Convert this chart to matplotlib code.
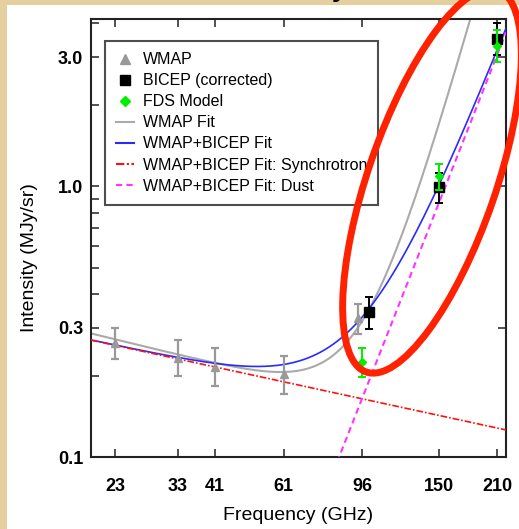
import numpy as np
import matplotlib
matplotlib.use("Agg")
import matplotlib.pyplot as plt
from matplotlib.patches import Ellipse, Rectangle
from matplotlib.lines import Line2D
from matplotlib.ticker import LogLocator, NullLocator, NullFormatter

plt.rcParams['font.family'] = ['Liberation Sans', 'DejaVu Sans']

# ---- measured points ----
wmap_freq = [23, 33, 41, 61, 94]
wmap_I = [0.264, 0.232, 0.215, 0.203, 0.326]
wmap_lo = [0.230, 0.200, 0.183, 0.171, 0.285]
wmap_hi = [0.300, 0.271, 0.252, 0.237, 0.368]

bicep_freq = [100, 150, 210]
bicep_I = [0.344, 0.99, 3.50]
bicep_lo = [0.297, 0.87, 3.05]
bicep_hi = [0.390, 1.12, 4.00]

fds_freq = [96, 150, 210]
fds_I = [0.225, 1.09, 3.30]
fds_lo = [0.198, 0.97, 2.87]
fds_hi = [0.253, 1.21, 3.77]

# ---- power-law fit components: (amplitude, reference GHz, index) ----
joint_synch = (0.2585, 23.0, -0.318)
joint_dust = (0.100, 84.1, 3.74)
wmap_synch = (0.272, 23.0, -0.36)
wmap_dust = (0.445, 117.7, 5.2)

xticks = [23, 33, 41, 61, 96, 150, 210]
xticklabels = ['23', '33', '41', '61', '96', '150', '210']
yticks = [0.1, 0.3, 1.0, 3.0]
yticklabels = ['0.1', '0.3', '1.0', '3.0']


def power_law(f, comp):
    amp, ref, idx = comp
    return amp * (f / ref) ** idx


W, H = 519, 529
fig = plt.figure(figsize=(W / 100, H / 100), dpi=100, facecolor='#e6cf9f')

# page background
bg = fig.add_axes([0, 0, 1, 1], zorder=0)
bg.set_xlim(0, W)
bg.set_ylim(H, 0)
bg.axis('off')
bg.add_patch(Rectangle((7, 5), W, H, facecolor='white', edgecolor='none'))
bg.text(338, -3, 'y', fontsize=17, fontweight='bold', ha='center',
        va='baseline', color='black', family='DejaVu Sans')

# main plot
L, R, T, B = 91, 506, 19, 457
ax = fig.add_axes([L / W, 1 - B / H, (R - L) / W, (B - T) / H], zorder=1)
ax.set_xscale('log')
ax.set_yscale('log')
ax.set_xlim(20, 221)
ax.set_ylim(0.1, 4.15)

f = np.geomspace(20, 221, 400)
s_joint = power_law(f, joint_synch)
d_joint = power_law(f, joint_dust)
ax.plot(f, power_law(f, wmap_synch) + power_law(f, wmap_dust),
        color='#aaaaaa', lw=1.5, zorder=2)
ax.plot(f, s_joint + d_joint, color='#2a2aff', lw=1.2, zorder=3)
ax.plot(f, s_joint, color='#ff1010', lw=1.2,
        linestyle=(0, (4, 1.2, 1, 1.2)), zorder=3)
ax.plot(f, d_joint, color='#ff33ff', lw=1.5,
        linestyle=(0, (3, 2)), zorder=3)

def err(vals, lo, hi):
    v = np.array(vals)
    return [v - np.array(lo), np.array(hi) - v]

ax.errorbar(wmap_freq, wmap_I, yerr=err(wmap_I, wmap_lo, wmap_hi), fmt='^',
            color='#999999', ms=6, capsize=3.2, elinewidth=1.6,
            capthick=1.6, zorder=4)
ax.errorbar(bicep_freq, bicep_I, yerr=err(bicep_I, bicep_lo, bicep_hi),
            fmt='s', color='black', ms=6.5, capsize=3.2, elinewidth=1.4,
            capthick=1.4, zorder=5)
ax.errorbar(fds_freq, fds_I, yerr=err(fds_I, fds_lo, fds_hi), fmt='D',
            color='#00ee00', ms=4.5, capsize=3.2, elinewidth=1.4,
            capthick=1.4, zorder=6)

ax.set_xticks(xticks)
ax.set_xticklabels(xticklabels)
ax.xaxis.set_minor_locator(NullLocator())
ax.set_yticks(yticks)
ax.set_yticklabels(yticklabels)
ax.yaxis.set_minor_locator(LogLocator(base=10, subs=[2, 4, 5, 6, 7, 8, 9]))
ax.yaxis.set_minor_formatter(NullFormatter())

ax.tick_params(which='both', direction='in', length=5.5, width=1.1,
               top=True, right=True, color='#222222')
ax.tick_params(which='minor', right=False)
ax.tick_params(axis='x', pad=15, labelsize=13)
ax.tick_params(axis='y', pad=5.5, labelsize=13)
for lab in ax.get_xticklabels() + ax.get_yticklabels():
    lab.set_fontweight('bold')
for sp in ax.spines.values():
    sp.set_linewidth(1.5)
    sp.set_color('#222222')

ax.set_xlabel('Frequency (GHz)', fontsize=14, va='center')
ax.xaxis.set_label_coords(0.5, (B - 515) / (B - T))
ax.set_ylabel('Intensity (MJy/sr)', fontsize=14, va='center')
ax.yaxis.set_label_coords((30 - L) / (R - L), (B - 258) / (B - T))

handles = [
    Line2D([], [], marker='^', ls='none', color='#999999', ms=7),
    Line2D([], [], marker='s', ls='none', color='black', ms=7),
    Line2D([], [], marker='D', ls='none', color='#00ee00', ms=5),
    Line2D([], [], color='#aaaaaa', lw=1.5),
    Line2D([], [], color='#2a2aff', lw=1.5),
    Line2D([], [], color='#ff1010', lw=1.5, linestyle=(0, (4, 1.2, 1, 1.2))),
    Line2D([], [], color='#ff33ff', lw=1.5, linestyle=(0, (3, 2))),
]
labels = ['WMAP', 'BICEP (corrected)', 'FDS Model', 'WMAP Fit',
          'WMAP+BICEP Fit', 'WMAP+BICEP Fit: Synchrotron',
          'WMAP+BICEP Fit: Dust']
leg = ax.legend(handles, labels, loc='upper left',
                bbox_to_anchor=(105 / W, 1 - 41 / H),
                bbox_transform=fig.transFigure, borderaxespad=0,
                prop={'size': 11.5}, frameon=True, fancybox=False,
                edgecolor='#222222', handlelength=1.1, handletextpad=0.55,
                labelspacing=0.38, borderpad=0.7)
leg.get_frame().set_linewidth(1.5)

# red highlight ring
ov = fig.add_axes([0, 0, 1, 1], zorder=10)
ov.set_xlim(0, W)
ov.set_ylim(H, 0)
ov.axis('off')
ov.patch.set_alpha(0)
ov.add_patch(Ellipse((432, 181), width=2 * 64, height=2 * 202, angle=19,
                     facecolor='none', edgecolor='#ff2200', lw=5))

fig.savefig('out.png', dpi=100, facecolor=fig.get_facecolor())
